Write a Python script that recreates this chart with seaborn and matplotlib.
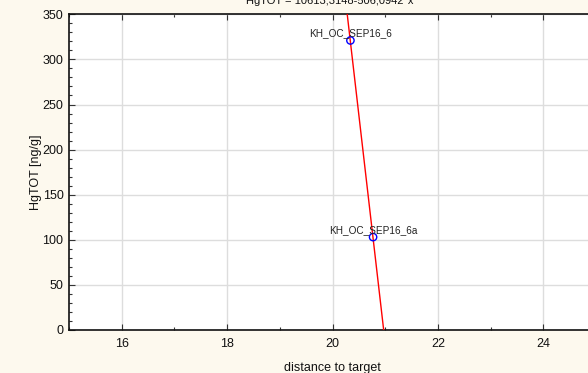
import matplotlib
matplotlib.use("Agg")
import matplotlib.pyplot as plt
from matplotlib.ticker import MultipleLocator
import numpy as np
import pandas as pd
import seaborn as sns

# Samples
sample_ids = ["KH_OC_SEP16_6", "KH_OC_SEP16_6a"]
distance = [20.34, 20.77]
hgtot = [321.0, 103.0]

# Fitted linear model HgTOT = a - b * x
intercept = 10613.3148
slope = -506.0942
title_text = "HgTOT = 10613,3148-506,0942*x"

x_limits = (15, 25)
y_limits = (0, 350)

sns.set_style("white")
plt.rcParams["font.family"] = ["Liberation Sans", "DejaVu Sans"]

W, H = 588, 373
fig = plt.figure(figsize=(W / 100, H / 100), dpi=100)
fig.patch.set_facecolor("#FDF9EE")

ax = fig.add_axes([69 / W, 1 - 330 / H, (596 - 69) / W, (330 - 14.3) / H])
ax.set_facecolor("white")

# Regression line spanning the visible y range
fit_y = np.array(y_limits, dtype=float)
fit_x = (fit_y - intercept) / slope
fit_df = pd.DataFrame({"x": fit_x, "y": fit_y})
sns.lineplot(data=fit_df, x="x", y="y", color="#FF0000", linewidth=1.0,
             ax=ax, zorder=3, sort=False)

pts = pd.DataFrame({"distance": distance, "hgtot": hgtot, "id": sample_ids})
sns.scatterplot(data=pts, x="distance", y="hgtot", ax=ax, s=28,
                marker="o", facecolor="none", edgecolor="#0000FF",
                linewidth=1.0, zorder=4)

for _, r in pts.iterrows():
    ax.annotate(r["id"], (r["distance"], r["hgtot"]), xytext=(0, 1.5),
                textcoords="offset points", ha="center", va="bottom",
                fontsize=7.2, color="#222222", zorder=5)

ax.set_xlim(*x_limits)
ax.set_ylim(*y_limits)
ax.xaxis.set_major_locator(MultipleLocator(2))
ax.xaxis.set_minor_locator(MultipleLocator(1))
ax.yaxis.set_major_locator(MultipleLocator(50))
ax.yaxis.set_minor_locator(MultipleLocator(10))

ax.grid(True, which="major", color="#DDDDDD", linewidth=1.0)
ax.set_axisbelow(True)

ax.tick_params(which="both", direction="in", top=True, right=True,
               bottom=True, left=True, colors="#333333",
               labelcolor="#111111", labelsize=9)
ax.tick_params(which="major", length=4, width=0.8)
ax.tick_params(which="minor", length=2.5, width=0.8)
ax.tick_params(axis="y", pad=4)
ax.tick_params(axis="x", pad=6)

for s in ax.spines.values():
    s.set_color("#111111")
    s.set_linewidth(1.2)

ax.set_xlabel("distance to target", fontsize=9, labelpad=8.5, color="#111111")
ax.set_ylabel("HgTOT [ng/g]", fontsize=9, labelpad=0, color="#111111")

fig.text(330 / W, 1 - 4 / H, title_text, ha="center", va="baseline",
         fontsize=8, color="#111111")

fig.savefig("out.png", dpi=100, facecolor=fig.get_facecolor())
